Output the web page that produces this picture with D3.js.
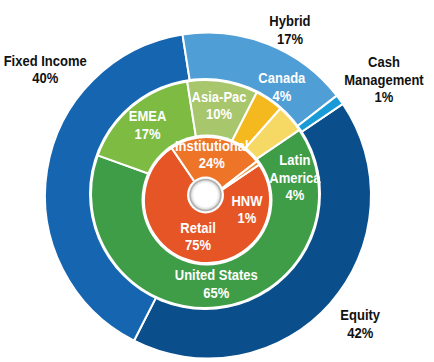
<!DOCTYPE html>
<html>
<head>
<meta charset="utf-8">
<script src="https://cdn.jsdelivr.net/npm/d3@7"></script>
<style>
  body { margin: 0; background: #fff; }
  svg { display: block; }
  text { font-family: "Liberation Sans", Arial, sans-serif; font-weight: bold; }
</style>
</head>
<body>
<div id="chart"></div>
<script>
// outer ring: asset class
const assetClasses = ["Equity", "Fixed Income", "Hybrid", "Cash Management"];
const assetShares = [42, 40, 17, 1];
const assetColors = ["#0a4f8c", "#1565b0", "#4f9ed6", "#1a9bd7"];

// middle ring: region
const regions = ["United States", "EMEA", "Asia-Pac", "Canada", "Latin America"];
const regionShares = [65, 17, 10, 4, 4];
const regionColors = ["#3f9d47", "#7dbb42", "#a8c66c", "#f4b91f", "#f6d965"];

// inner pie: channel
const channels = ["Retail", "Institutional", "HNW"];
const channelShares = [75, 24, 1];
const channelColors = ["#e65525", "#ee7427", "#ef8a30"];

// names that break onto two lines
const wrapNames = ["Cash Management", "Latin America"];

const width = 434, height = 362;
const startDeg = 55.8;
const squeeze = 0.84; // no narrow font installed, so squeeze the glyphs

// label spots given as [angle deg, radius] from their ring's centre, when not on the centroid
const labelAt = {
    "Fixed Income": [307.8, 206],
    "Hybrid": [26.3, 185],
    "Cash Management": [56.5, 211],
    "Equity": [130.1, 199],
    "Canada": [35.6, 132],
    "Latin America": [79.3, 91.5],
    "Institutional": [6, 46],
    "Retail": [194, 37],
    "HNW": [102.7, 41]
};

const svg = d3.select("#chart").append("svg")
    .attr("width", width)
    .attr("height", height);

const a0 = startDeg * Math.PI / 180;
const pie = d3.pie().sort(null).value(d => d.value)
    .startAngle(a0).endAngle(a0 + 2 * Math.PI);

// the three rings are not quite concentric in the original
const rings = [
    { names: assetClasses, values: assetShares, colors: assetColors, c: [208, 195.5], r0: 100, r1: 163, outside: true },
    { names: regions, values: regionShares, colors: regionColors, c: [205, 194], r0: 50, r1: 114, pad: 116, labelR: 90 },
    { names: channels, values: channelShares, colors: channelColors, c: [207, 200], r0: 0, r1: 63, pad: 65.5 }
];

const lh = 17.5;

rings.forEach(ring => {
    const g = svg.append("g").attr("transform", `translate(${ring.c[0]},${ring.c[1]})`);
    const data = ring.names.map((n, i) => ({ name: n, value: ring.values[i], color: ring.colors[i] }));
    const arcs = pie(data);
    const arc = d3.arc().innerRadius(ring.r0).outerRadius(ring.r1);

    // white band that separates this ring from the one outside it
    if (ring.pad) g.append("circle").attr("r", ring.pad).attr("fill", "#fff");

    g.append("g").selectAll("path")
        .data(arcs)
        .enter().append("path")
        .attr("d", arc)
        .attr("fill", d => d.data.color)
        .attr("stroke", "#fff")
        .attr("stroke-width", 2)
        .attr("stroke-linejoin", "round");

    ring.g = g;
    ring.arcs = arcs;
    ring.labelArc = ring.labelR ? d3.arc().innerRadius(ring.labelR).outerRadius(ring.labelR) : arc;
});

// hole in the middle, with a soft grey rim
const defs = svg.append("defs");
const grad = defs.append("radialGradient").attr("id", "hole");
grad.append("stop").attr("offset", "0%").attr("stop-color", "#fff");
grad.append("stop").attr("offset", "70%").attr("stop-color", "#fff");
grad.append("stop").attr("offset", "84%").attr("stop-color", "#e3e3e3");
grad.append("stop").attr("offset", "93%").attr("stop-color", "#a9a9a9");
grad.append("stop").attr("offset", "100%").attr("stop-color", "#d5d5d5");

const hole = svg.append("g").attr("transform", "translate(205.5,195)");
hole.append("circle").attr("r", 18.5).attr("fill", "#fff");
hole.append("circle").attr("r", 16.5).attr("fill", "url(#hole)");

// labels
const labelLayer = svg.append("g");
rings.forEach(ring => {
    const lg = labelLayer.append("g").attr("transform", `translate(${ring.c[0]},${ring.c[1]})`);
    ring.arcs.forEach(d => {
        const name = d.data.name;
        let x, y;
        if (labelAt[name]) {
            const a = labelAt[name][0] * Math.PI / 180, r = labelAt[name][1];
            x = r * Math.sin(a);
            y = -r * Math.cos(a);
        } else {
            [x, y] = ring.labelArc.centroid(d);
        }
        const lines = (wrapNames.includes(name) ? name.split(" ") : [name]).concat([d.data.value + "%"]);
        const y0 = -(lines.length - 1) * lh / 2 + 5.5;
        const t = lg.append("text")
            .attr("transform", `translate(${x},${y}) scale(${squeeze},1)`)
            .attr("text-anchor", "middle")
            .attr("font-size", "15.5px")
            .attr("fill", ring.outside ? "#111" : "#fff");
        lines.forEach((s, i) => {
            t.append("tspan")
                .attr("x", 0)
                .attr("y", y0 + i * lh)
                .text(s);
        });
    });
});
</script>
</body>
</html>
